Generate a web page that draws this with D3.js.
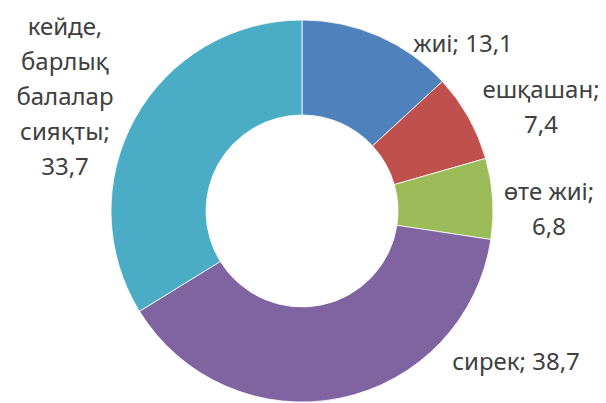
<!DOCTYPE html>
<html>
<head>
<meta charset="utf-8">
<script src="https://cdn.jsdelivr.net/npm/d3@7"></script>
<style>
  html, body { margin: 0; padding: 0; background: #ffffff; }
  svg { display: block; }
</style>
</head>
<body>
<svg id="chart" width="606" height="403"></svg>
<script>
// Data
const categories = ["жиі", "ешқашан", "өте жиі", "сирек", "кейде, барлық балалар сияқты"];
const values = [13.1, 7.4, 6.8, 38.7, 33.7];
const valueLabels = ["13,1", "7,4", "6,8", "38,7", "33,7"];
const colors = ["#4f81bd", "#c0504d", "#9bbb59", "#8064a2", "#4bacc6"];
// label lines per slice (text content only)
const labelLines = [
  ["жиі; 13,1"],
  ["ешқашан;", "7,4"],
  ["өте жиі;", "6,8"],
  ["сирек; 38,7"],
  ["кейде,", "барлық", "балалар", "сияқты;", "33,7"]
];

const W = 606, H = 403;
const cx = 302, cy = 211;
const outerR = 191, innerR = 96;

const svg = d3.select("#chart");
const g = svg.append("g").attr("transform", `translate(${cx},${cy})`);

const pie = d3.pie().sort(null).value(d => d.v);
const data = values.map((v, i) => ({ v, i }));
const arcs = pie(data);
const arc = d3.arc().innerRadius(innerR).outerRadius(outerR);

g.selectAll("path.slice")
  .data(arcs)
  .enter().append("path")
  .attr("class", "slice")
  .attr("d", arc)
  .attr("fill", d => colors[d.data.i])
  .attr("stroke", "#ffffff")
  .attr("stroke-width", 0.8);

// label anchor positions (centres of text blocks, in page coordinates)
const labelPos = [
  { x: 463, y: 44 },
  { x: 541, y: 90 },
  { x: 549, y: 192 },
  { x: 516, y: 362 },
  { x: 65, y: 27 }
];
const lineH = 35;

const lab = svg.append("g")
  .attr("font-family", "'Noto Sans', 'DejaVu Sans', sans-serif")
  .attr("font-size", 24)
  .attr("fill", "#404040")
  .attr("text-anchor", "middle");

labelLines.forEach((lines, i) => {
  const p = labelPos[i];
  lines.forEach((t, j) => {
    lab.append("text")
      .attr("x", p.x)
      .attr("y", p.y + j * lineH)
      .attr("dy", "0.35em")
      .text(t);
  });
});
</script>
</body>
</html>
